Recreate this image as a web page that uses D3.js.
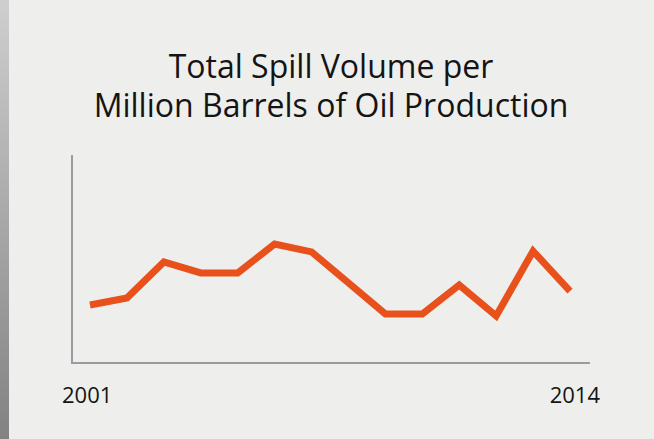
<!DOCTYPE html>
<html>
<head>
<meta charset="utf-8">
<title>Total Spill Volume</title>
<style>
  body { margin: 0; background: #eeeeec; }
  svg { display: block; }
  .title { font-family: "Open Sans", sans-serif; font-size: 32px; fill: #141414; }
  .year { font-family: "Open Sans", sans-serif; font-size: 22px; fill: #141414; }
  .axis { stroke: #989ca1; stroke-width: 2px; }
  .line { fill: none; stroke: #e8501c; stroke-width: 7px; stroke-linejoin: miter; }
</style>
</head>
<body>
<script src="https://d3js.org/d3.v7.min.js"></script>
<script>
// data (relative units, 0 = baseline)
var years = [2001, 2002, 2003, 2004, 2005, 2006, 2007, 2008, 2009, 2010, 2011, 2012, 2013, 2014];
var volume = [27.9, 31.3, 48.6, 43.3, 43.3, 57.2, 53.4, 38.5, 23.6, 23.6, 37.5, 22.6, 53.8, 34.6];
var titleLines = ["Total Spill Volume per", "Million Barrels of Oil Production"];
var yearLabels = ["2001", "2014"];

var W = 654, H = 439;
var svg = d3.select("body").append("svg").attr("width", W).attr("height", H);

// scanned page edge on the left
var grad = svg.append("defs").append("linearGradient")
    .attr("id", "edge").attr("x1", 0).attr("y1", 0).attr("x2", 0).attr("y2", 1);
grad.append("stop").attr("offset", "0%").attr("stop-color", "#cfcfcf");
grad.append("stop").attr("offset", "100%").attr("stop-color", "#828282");
svg.append("rect").attr("width", W).attr("height", H).attr("fill", "#eeeeec");
svg.append("rect").attr("width", 9).attr("height", H).attr("fill", "url(#edge)");

// title
svg.selectAll("text.title").data(titleLines).enter().append("text")
    .attr("class", "title")
    .attr("x", 331)
    .attr("y", function(d, i) { return 78 + i * 39; })
    .attr("text-anchor", "middle")
    .text(function(d) { return d; });

var x = d3.scaleLinear().domain([2001, 2014]).range([90, 570]);
var y = d3.scaleLinear().domain([0, 100]).range([363, 155]);

// axes (plain lines, no ticks)
svg.append("line").attr("class", "axis")
    .attr("x1", 72).attr("x2", 72).attr("y1", y(100)).attr("y2", y(0) + 1);
svg.append("line").attr("class", "axis")
    .attr("x1", 71).attr("x2", 590).attr("y1", y(0)).attr("y2", y(0));

var line = d3.line()
    .x(function(d, i) { return x(years[i]); })
    .y(function(d) { return y(d); });

svg.append("path").datum(volume).attr("class", "line").attr("d", line);

// year labels at both ends
svg.selectAll("text.year").data(yearLabels).enter().append("text")
    .attr("class", "year")
    .attr("x", function(d, i) { return i === 0 ? 62 : 600; })
    .attr("y", 403)
    .attr("text-anchor", function(d, i) { return i === 0 ? "start" : "end"; })
    .text(function(d) { return d; });
</script>
</body>
</html>
